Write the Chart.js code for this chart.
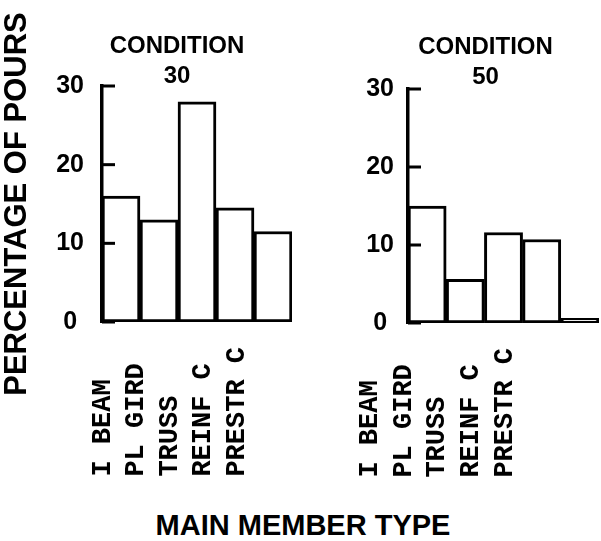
<!DOCTYPE html>
<html>
<head>
<meta charset="utf-8">
<script src="https://cdn.jsdelivr.net/npm/chart.js@4.4.0/dist/chart.umd.min.js"></script>
<style>
  html, body { margin: 0; padding: 0; background: #fff; }
  #page { position: relative; width: 601px; height: 541px; overflow: hidden; background: #fff; }
  canvas { position: absolute; top: 0; }
  #left { left: 0; }
  #right { left: 300px; }
  #xtitle {
    position: absolute; left: 0; width: 606px; top: 509px;
    text-align: center; line-height: 1;
    font: bold 29px "Liberation Sans", sans-serif; color: #000;
  }
</style>
</head>
<body>
<div id="page">
  <canvas id="left" width="354" height="482"></canvas>
  <canvas id="right" width="311" height="483"></canvas>
  <div id="xtitle"></div>
</div>
<script>
// data
var categories = ['I BEAM', 'PL GIRD', 'TRUSS', 'REINF C', 'PRESTR C'];
var cond30 = [16, 13, 28, 14.5, 11.5];
var cond50 = [15, 5.6, 11.6, 10.7, 0.6];
var yTicks = [0, 10, 20, 30];
var title30 = ['CONDITION', '30'];
var title50 = ['CONDITION', '50'];
var yTitle = 'PERCENTAGE OF POURS';
var xTitle = 'MAIN MEMBER TYPE';

document.getElementById('xtitle').textContent = xTitle;

Chart.defaults.font.family = "'Liberation Sans', sans-serif";
Chart.defaults.color = '#000';

var longest = Math.max.apply(null, categories.map(function (c) { return c.length; }));

// short tick marks pointing into the plot, placed by the y scale
var innerTicks = {
  id: 'innerTicks',
  afterDatasetsDraw: function (chart) {
    var y = chart.scales.y;
    var ctx = chart.ctx;
    var left = chart.chartArea.left;
    ctx.save();
    ctx.fillStyle = '#000';
    y.ticks.forEach(function (t) {
      var py = y.getPixelForValue(t.value);
      ctx.fillRect(left, py - 1.5, 13, 3);
    });
    ctx.restore();
  }
};

function panel(id, values, title, o) {
  var cats = categories.slice();
  var scales = {
    x: {
      type: 'category',
      labels: cats,
      display: false,
      offset: true
    },
    // separate axis just for the member-type labels (they sit off the bar centres)
    xl: {
      type: 'linear',
      axis: 'x',
      position: 'bottom',
      offset: false,
      bounds: 'data',
      min: o.labelMin,
      max: o.labelMax,
      afterBuildTicks: function (s) {
        s.ticks = cats.map(function (c, i) { return {value: i}; });
      },
      afterFit: function (s) { s.height = 160; },
      grid: {display: false, drawTicks: false, offset: false},
      border: {display: false},
      ticks: {
        autoSkip: false,
        minRotation: 90,
        maxRotation: 90,
        padding: 25,
        color: '#000',
        font: {family: "'Liberation Mono', monospace", weight: 'bold', size: 27},
        callback: function (v, i) {
          // pad so the rotated labels all start on the same line
          return (cats[i] || '').padEnd(longest, ' ');
        }
      }
    },
    y: {
      position: 'left',
      min: 0,
      max: 30,
      afterBuildTicks: function (s) {
        s.ticks = yTicks.map(function (v) { return {value: v}; });
      },
      afterFit: function (s) { s.width = o.yWidth; },
      grid: {display: false, drawTicks: false},
      border: {display: true, color: '#000', width: 3.5, z: 1},
      ticks: {
        padding: o.yPad,
        crossAlign: 'center',
        color: '#000',
        font: {weight: 'bold', size: 25}
      },
      title: {
        display: !!o.yTitle,
        text: o.yTitle || '',
        color: '#000',
        font: {weight: 'bold', size: 31, lineHeight: 1.1},
        padding: {top: 0, bottom: 0}
      }
    },
    yR: {
      type: 'linear',
      position: 'right',
      grid: {display: false, drawTicks: false},
      border: {display: false},
      ticks: {display: false},
      afterFit: function (s) { s.width = o.rightGap; }
    }
  };

  return new Chart(document.getElementById(id), {
    type: 'bar',
    data: {
      labels: cats,
      datasets: [{
        data: values.slice(),
        backgroundColor: '#fff',
        borderColor: '#000',
        borderWidth: 3,
        borderSkipped: false,
        barPercentage: 1,
        categoryPercentage: 1,
        xAxisID: 'x',
        yAxisID: 'y'
      }]
    },
    options: {
      responsive: false,
      animation: false,
      events: [],
      layout: {padding: o.padding},
      scales: scales,
      plugins: {
        legend: {display: false},
        tooltip: {enabled: false},
        title: {
          display: true,
          text: title,
          fullSize: true,
          color: '#000',
          font: {weight: 'bold', size: 24, lineHeight: 1.25},
          padding: o.titlePad
        }
      }
    },
    plugins: [innerTicks]
  });
}

var charts = [
  panel('left', cond30, title30, {
    yWidth: 102,
    yPad: 18,
    yTitle: yTitle,
    rightGap: 62,
    padding: {left: 0, right: 0, top: 0, bottom: 0},
    titlePad: {top: 31, bottom: -5},
    labelMin: -0.03,
    labelMax: 5.642
  }),
  panel('right', cond50, title50, {
    yWidth: 48,
    yPad: 14,
    rightGap: 12,
    padding: {left: 60, right: 0, top: 0, bottom: 0},
    titlePad: {top: 32.5, bottom: -3.5},
    labelMin: 1.126,
    labelMax: 6.785
  })
];

// read a pixel back so every canvas flushes its drawing before the snapshot
charts.forEach(function (c) {
  c.ctx.getImageData(0, 0, 1, 1);
});
</script>
</body>
</html>
